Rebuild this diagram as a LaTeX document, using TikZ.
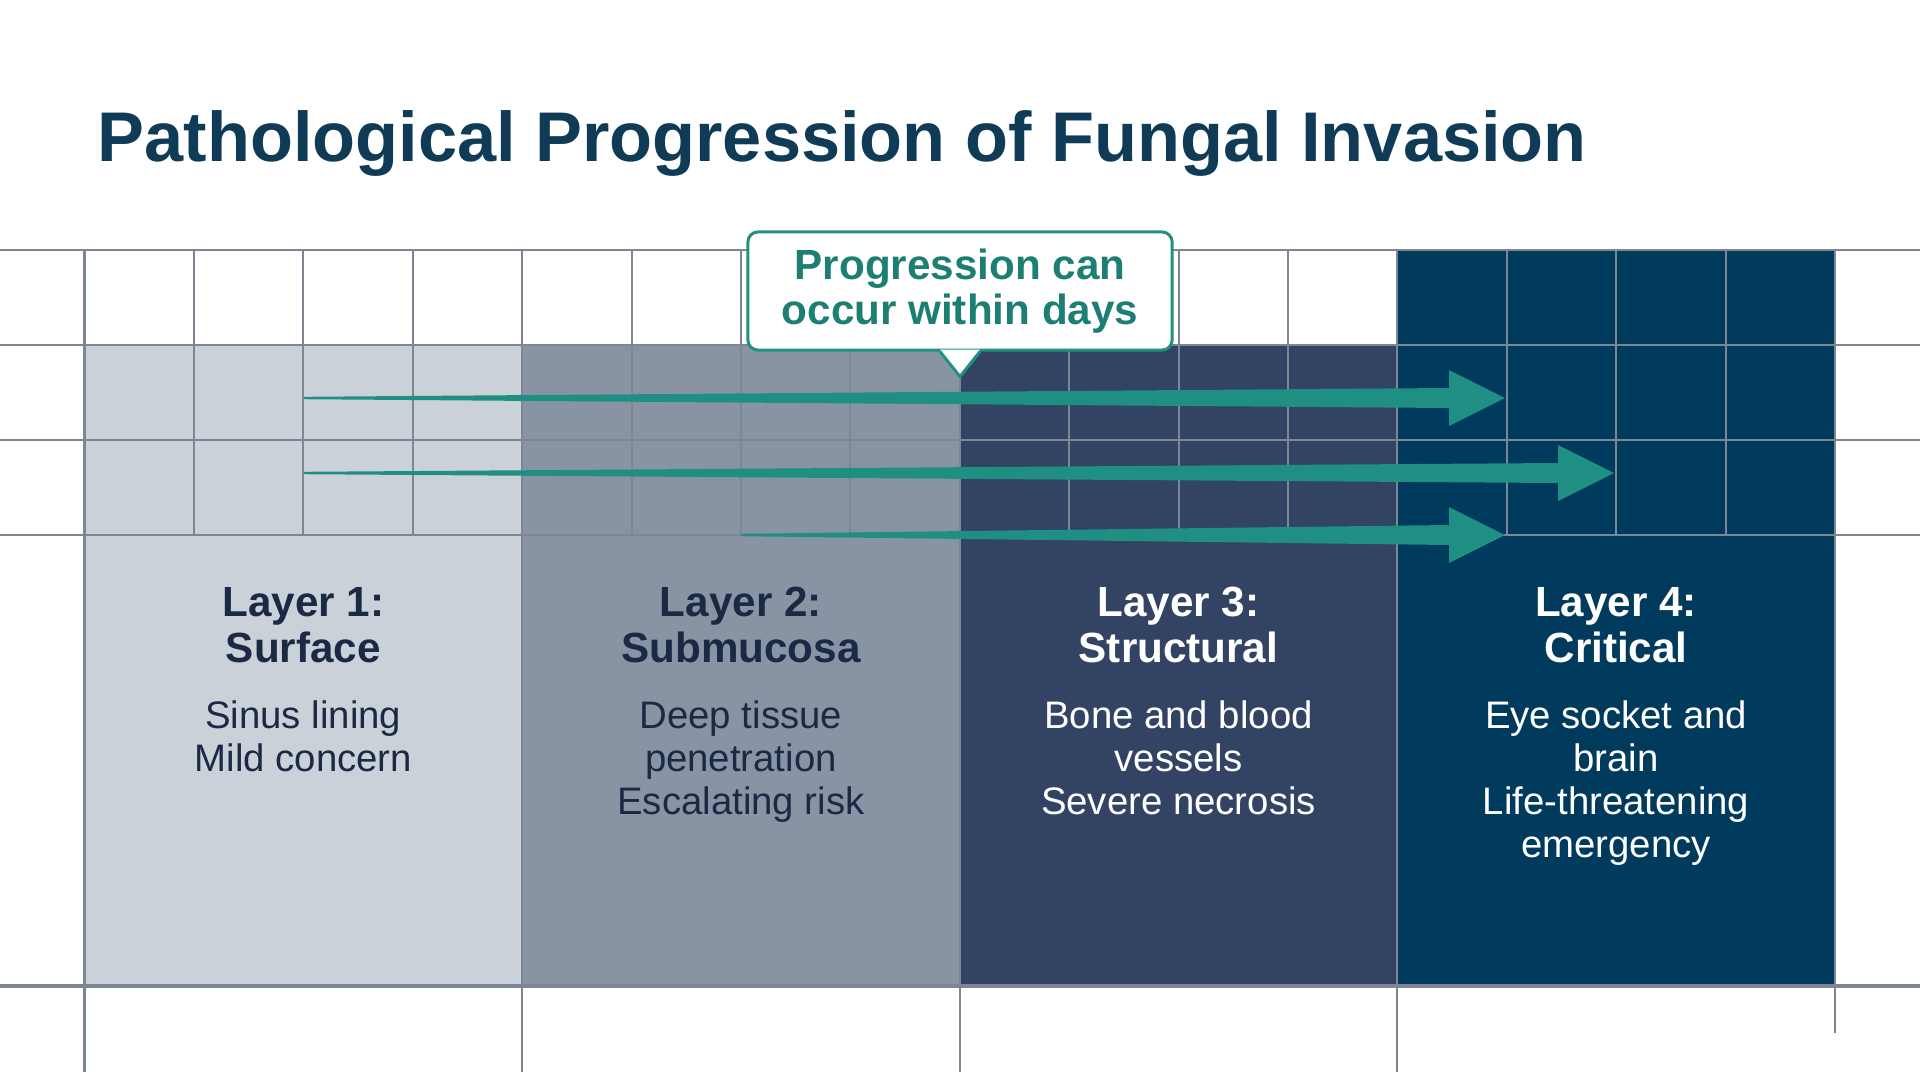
\documentclass[tikz,border=0pt]{standalone}
\usepackage{fontspec}
\setmainfont{Liberation Sans}
\usepackage{xcolor}
\usetikzlibrary{calc}
\definecolor{titleblue}{HTML}{0F3B57}
\definecolor{gridgray}{HTML}{7D8794}
\definecolor{layerA}{HTML}{CBD1D9}
\definecolor{layerB}{HTML}{8894A4}
\definecolor{layerC}{HTML}{334363}
\definecolor{layerD}{HTML}{003A5C}
\definecolor{darktext}{HTML}{1C2944}
\definecolor{flowteal}{HTML}{1F8E83}
\definecolor{tealline}{HTML}{23907F}
\definecolor{tealtext}{HTML}{1D7F73}

\begin{document}
\begin{tikzpicture}[x=0.01cm, y=-0.01cm,
    gridline/.style={draw=gridgray, line width=0.57pt},
    heading/.style={font=\bfseries\fontsize{12}{12.8}\selectfont, align=center, anchor=base, inner sep=0pt},
    desc/.style={font=\fontsize{10.9}{12.2}\selectfont, align=center, anchor=base, inner sep=0pt},
    flow/.style={fill=flowteal},
    tagbox/.style={draw=tealline, line width=0.85pt, fill=white, rounded corners=0.1cm,
        minimum width=4.24cm, minimum height=1.18cm, inner sep=0pt, align=center,
        font=\bfseries\fontsize{12}{12.8}\selectfont, text=tealtext}
]
\useasboundingbox (0,0) rectangle (1920,1072);
\fill[white] (0,0) rectangle (1920,1072);

% Title
\node[font=\bfseries\fontsize{20}{24}\selectfont, text=titleblue, anchor=base west, inner sep=0pt] (title) at (97,161) {Pathological Progression of Fungal Invasion};

% Layer blocks
\fill[layerA] (84.5,345) rectangle (522.1,986);
\fill[layerB] (522.1,345) rectangle (959.7,986);
\fill[layerC] (959.7,345) rectangle (1397.3,986);
\fill[layerD] (1397.3,250) rectangle (1834.9,986);

% Grid
\foreach \y in {250,345,440,535}
    \draw[gridline] (0,\y) -- (1920,\y);
\foreach \k in {0,...,16}
    \draw[gridline] ({84.5+109.4*\k},250) -- ({84.5+109.4*\k},535);
\foreach \k in {0,4,8,12,16}
    \draw[gridline] ({84.5+109.4*\k},535) -- ({84.5+109.4*\k},986);
\foreach \k in {0,4,8,12}
    \draw[gridline] ({84.5+109.4*\k},986) -- ({84.5+109.4*\k},1072);
\draw[gridline] (1834.9,986) -- (1834.9,1033);
\draw[gridline, line width=1.1pt] (0,986) -- (1920,986);

% Spreading arrows
\coordinate (tail1) at (304,398);
\coordinate (tip1) at (1505,398);
\coordinate (tail2) at (304,473);
\coordinate (tip2) at (1614,473);
\coordinate (tail3) at (741,535);
\coordinate (tip3) at (1505,535);
\foreach \s/\e in {tail1/tip1, tail2/tip2, tail3/tip3}
    \fill[flow] ($(\s)+(0,-1.2)$) -- ($(\e)+(-56,-10)$) -- ($(\e)+(-56,-28)$) -- (\e)
        -- ($(\e)+(-56,28)$) -- ($(\e)+(-56,10)$) -- ($(\s)+(0,1.2)$) -- cycle;

% Callout
\node[tagbox] (callout) at (960,291) {Progression can\\occur within days};
\coordinate (tagtip) at ([yshift=-0.25cm]callout.south);
\fill[white] ([xshift=-0.2cm,yshift=0.02cm]callout.south) -- (tagtip) -- ([xshift=0.2cm,yshift=0.02cm]callout.south) -- cycle;
\draw[tealline, line width=0.85pt, line join=round] ([xshift=-0.2cm]callout.south) -- (tagtip) -- ([xshift=0.2cm]callout.south);

% Layer labels (base = last line)
\node[heading, text=darktext] (head1) at (303.3,662) {Layer 1:\\Surface};
\node[heading, text=darktext] (head2) at (740.9,662) {Layer 2:\\Submucosa};
\node[heading, text=white] (head3) at (1178.5,662) {Layer 3:\\Structural};
\node[heading, text=white] (head4) at (1616.1,662) {Layer 4:\\Critical};

\node[desc, text=darktext] (desc1) at (303.3,771) {Sinus lining\\Mild concern};
\node[desc, text=darktext] (desc2) at (740.9,814) {Deep tissue\\penetration\\Escalating risk};
\node[desc, text=white] (desc3) at (1178.5,814) {Bone and blood\\vessels\\Severe necrosis};
\node[desc, text=white] (desc4) at (1616.1,857) {Eye socket and\\brain\\Life-threatening\\emergency};

\end{tikzpicture}
\end{document}
